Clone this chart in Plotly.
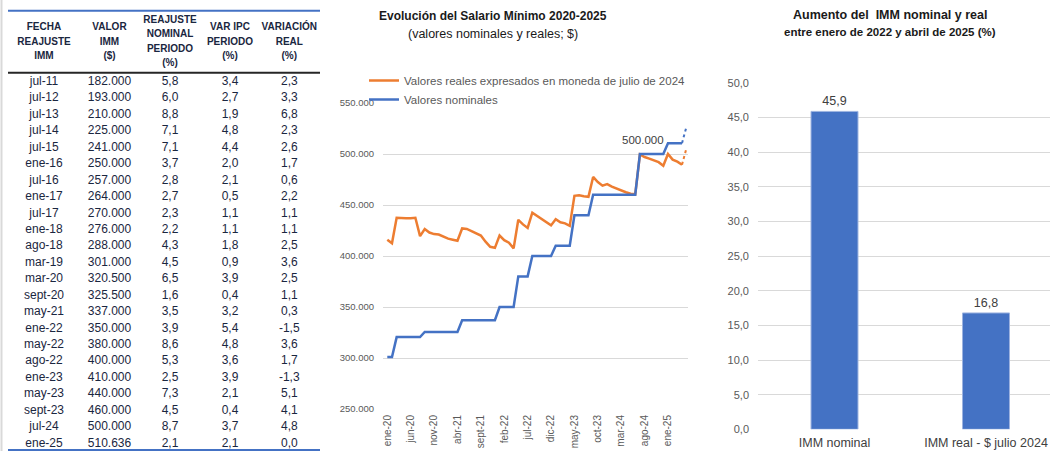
import plotly.graph_objects as go

# ---------------- Tabla de reajustes ----------------
fecha_reajuste = ["jul-11", "jul-12", "jul-13", "jul-14", "jul-15", "ene-16", "jul-16", "ene-17",
                  "jul-17", "ene-18", "ago-18", "mar-19", "mar-20", "sept-20", "may-21", "ene-22",
                  "may-22", "ago-22", "ene-23", "may-23", "sept-23", "jul-24", "ene-25"]
valor_imm = [182000, 193000, 210000, 225000, 241000, 250000, 257000, 264000,
             270000, 276000, 288000, 301000, 320500, 325500, 337000, 350000,
             380000, 400000, 410000, 440000, 460000, 500000, 510636]
reajuste_nominal = [5.8, 6.0, 8.8, 7.1, 7.1, 3.7, 2.8, 2.7, 2.3, 2.2, 4.3, 4.5,
                    6.5, 1.6, 3.5, 3.9, 8.6, 5.3, 2.5, 7.3, 4.5, 8.7, 2.1]
var_ipc = [3.4, 2.7, 1.9, 4.8, 4.4, 2.0, 2.1, 0.5, 1.1, 1.1, 1.8, 0.9,
           3.9, 0.4, 3.2, 5.4, 4.8, 3.6, 3.9, 2.1, 0.4, 3.7, 2.1]
variacion_real = [2.3, 3.3, 6.8, 2.3, 2.6, 1.7, 0.6, 2.2, 1.1, 1.1, 2.5, 3.6,
                  2.5, 1.1, 0.3, -1.5, 3.6, 1.7, -1.3, 5.1, 4.1, 4.8, 0.0]
encabezados = [["FECHA", "REAJUSTE", "IMM"],
               ["VALOR", "IMM", "($)"],
               ["REAJUSTE", "NOMINAL", "PERIODO", "(%)"],
               ["VAR IPC", "PERIODO", "(%)"],
               ["VARIACIÓN", "REAL", "(%)"]]

# ---------------- Serie mensual 2020-2025 ----------------
meses_es = ["ene", "feb", "mar", "abr", "may", "jun", "jul", "ago", "sept", "oct", "nov", "dic"]
meses = [f"{m}-{a}" for a in range(20, 26) for m in meses_es][:65]   # ene-20 ... may-25

valores_nominales = [
    301000, 301000,
    320500, 320500, 320500, 320500, 320500, 320500,
    325500, 325500, 325500, 325500, 325500, 325500, 325500, 325500,
    337000, 337000, 337000, 337000, 337000, 337000, 337000, 337000,
    350000, 350000, 350000, 350000,
    380000, 380000, 380000,
    400000, 400000, 400000, 400000, 400000,
    410000, 410000, 410000, 410000,
    440000, 440000, 440000, 440000,
    460000, 460000, 460000, 460000, 460000, 460000, 460000, 460000, 460000, 460000,
    500000, 500000, 500000, 500000, 500000, 500000,
    510636, 510636, 510636, 510636]
valores_reales = [
    416000, 412500, 437500, 437000, 437000, 437000, 437500, 419500, 426500, 423000,
    421500, 421000, 419000, 417000, 416000, 415000, 427000, 426500, 424500, 422500,
    420000, 414000, 409000, 408000, 420000, 415500, 413000, 407500, 435500, 431000,
    427500, 442500, 439500, 436500, 433000, 430000, 436000, 433000, 432000, 429500,
    459000, 459500, 458500, 458000, 477500, 472500, 469000, 470500, 468000, 466000,
    464500, 462500, 461000, 460500, 499500, 497000, 495500, 494000, 492000, 488500,
    500000, 494500, 492500, 489500]
proy_meses = ["abr-25", "may-25"]
proy_nominal = [510636, 527500]
proy_real = [489500, 506500]
etiqueta_mes, etiqueta_valor = "jul-24", 500000

# ---------------- Barras ----------------
barras_cat = ["IMM nominal", "IMM real - $ julio 2024"]
barras_val = [45.9, 16.8]


def miles(v):
    return f"{v:,}".replace(",", ".")


def dec(v):
    return f"{v:.1f}".replace(".", ",")


# ---------------- Layout constants ----------------
W, H = 1050, 451
NAVY = "#1a2640"
GRAY = "#595959"
DARK = "#404040"
ORANGE = "#ED7D31"
BLUE = "#4472C4"
FONT = "Liberation Sans, Arial, sans-serif"

COL_X = [44, 109.5, 170, 230, 289.3]
ROW0_Y, ROW_H = 82, 16.44
HDR_Y, HDR_LH = 42, 14.3

fig = go.Figure()

# ---- Table (text on a hidden pixel-unit axis) ----
cols = [fecha_reajuste,
        [miles(v) for v in valor_imm],
        [dec(v) for v in reajuste_nominal],
        [dec(v) for v in var_ipc],
        [dec(v) for v in variacion_real]]
tx, ty, tt = [], [], []
for c, col in enumerate(cols):
    for i, s in enumerate(col):
        tx.append(COL_X[c])
        ty.append(ROW0_Y + ROW_H * i)
        tt.append(s)
fig.add_trace(go.Scatter(x=tx, y=ty, text=tt, mode="text", xaxis="x3", yaxis="y3",
                         textfont=dict(size=12, color=NAVY, family=FONT),
                         textposition="middle center", showlegend=False, hoverinfo="skip"))
hx, hy, ht = [], [], []
for c, lines in enumerate(encabezados):
    n = len(lines)
    for k, s in enumerate(lines):
        hx.append(COL_X[c])
        hy.append(HDR_Y + (k - (n - 1) / 2) * HDR_LH)
        ht.append(s)
fig.add_trace(go.Scatter(x=hx, y=hy, text=ht, mode="text", xaxis="x3", yaxis="y3",
                         textfont=dict(size=10, color=NAVY, family=FONT, weight="bold"),
                         textposition="middle center", showlegend=False, hoverinfo="skip"))

# ---- Line chart ----
fig.add_trace(go.Scatter(x=meses[:len(valores_reales)], y=valores_reales, mode="lines",
                         name="Valores reales expresados en moneda de julio de 2024",
                         line=dict(color=ORANGE, width=2.5), xaxis="x", yaxis="y"))
fig.add_trace(go.Scatter(x=meses[:len(valores_nominales)], y=valores_nominales, mode="lines",
                         name="Valores nominales",
                         line=dict(color=BLUE, width=2.5), xaxis="x", yaxis="y"))
fig.add_trace(go.Scatter(x=proy_meses, y=proy_real, mode="lines", showlegend=False,
                         line=dict(color=ORANGE, width=2, dash="dot"), xaxis="x", yaxis="y"))
fig.add_trace(go.Scatter(x=proy_meses, y=proy_nominal, mode="lines", showlegend=False,
                         line=dict(color=BLUE, width=2, dash="dot"), xaxis="x", yaxis="y"))

# ---- Bar chart ----
fig.add_trace(go.Bar(x=barras_cat, y=barras_val, xaxis="x2", yaxis="y2", width=0.31,
                     marker=dict(color=BLUE, line=dict(color="#9db3e0", width=1)),
                     texttemplate="%{y:.1f}", textposition="outside", cliponaxis=False,
                     textfont=dict(size=12.5, color=DARK, family=FONT), showlegend=False))

shapes = [
    dict(type="line", xref="x3", yref="y3", x0=8, x1=320, y0=10.7, y1=10.7,
         line=dict(color=BLUE, width=2)),
    dict(type="line", xref="x3", yref="y3", x0=8, x1=320, y0=72.7, y1=72.7,
         line=dict(color="#262626", width=2)),
    dict(type="line", xref="x3", yref="y3", x0=8, x1=320, y0=450, y1=450,
         line=dict(color=BLUE, width=2)),
    dict(type="line", xref="x3", yref="y3", x0=1.5, x1=1.5, y0=0, y1=451,
         line=dict(color="#d9d9d9", width=2)),
]

ann_common = dict(xref="paper", yref="paper", showarrow=False,
                  xanchor="center", yanchor="middle")
annotations = [
    dict(text="<b>Evolución del Salario Mínimo 2020-2025</b>",
         x=493 / W, y=(H - 16) / H, font=dict(size=12, color="#1a1a1a"), **ann_common),
    dict(text="(valores nominales y reales; $)",
         x=493 / W, y=(H - 34) / H, font=dict(size=12.5, color="#1a1a1a"), **ann_common),
    dict(text="<b>Aumento del  IMM nominal y real</b>",
         x=890 / W, y=(H - 15) / H, font=dict(size=12.5, color="#1a1a1a"), **ann_common),
    dict(text="<b>entre enero de 2022 y abril de 2025 (%)</b>",
         x=890 / W, y=(H - 32) / H, font=dict(size=11.5, color="#1a1a1a"), **ann_common),
    dict(text=miles(etiqueta_valor), xref="x", yref="y", x=etiqueta_mes, y=etiqueta_valor,
         showarrow=False, xanchor="center", yanchor="middle", yshift=14, xshift=3,
         font=dict(size=11.5, color=DARK)),
]

fig.update_layout(
    width=W, height=H, margin=dict(l=0, r=0, t=0, b=0, autoexpand=False),
    paper_bgcolor="white", plot_bgcolor="rgba(0,0,0,0)",
    separators=",.",
    font=dict(family=FONT, color=GRAY),
    showlegend=True,
    legend=dict(x=364 / W, y=(H - 66) / H, xanchor="left", yanchor="top",
                font=dict(size=11.5, color=GRAY), bgcolor="rgba(0,0,0,0)",
                itemwidth=30, tracegroupgap=0),
    xaxis=dict(domain=[383 / W, 688 / W], type="category", categoryorder="array",
               categoryarray=meses, range=[-0.92, 64.28], tickmode="array",
               tickvals=meses[:61:5], ticktext=meses[:61:5], tickangle=-90,
               tickfont=dict(size=10, color=GRAY), showgrid=False, zeroline=False,
               showline=False, ticks="", ticklabelstandoff=3, anchor="y", automargin=False),
    yaxis=dict(domain=[(H - 409) / H, (H - 103) / H], range=[250000, 550000], dtick=50000,
               tickformat=",.0f", gridcolor="#d9d9d9", gridwidth=1, zeroline=False,
               showline=False, tickfont=dict(size=9.5, color=GRAY), ticklabelstandoff=8,
               anchor="x", automargin=False),
    xaxis2=dict(domain=[758 / W, 1.0], range=[-0.505, 1.4224], type="category",
                tickfont=dict(size=12.5, color=DARK), showgrid=False, zeroline=False,
                showline=False, ticks="", ticklabelstandoff=4, anchor="y2", automargin=False),
    yaxis2=dict(domain=[(H - 429.3) / H, (H - 83) / H], range=[0, 50], dtick=5,
                tickformat=".1f", gridcolor="#d9d9d9", gridwidth=1, zeroline=False,
                showline=False, tickfont=dict(size=11, color=GRAY), ticklabelstandoff=8,
                anchor="x2", automargin=False),
    xaxis3=dict(domain=[0, 340 / W], range=[0, 340], visible=False, anchor="y3",
                automargin=False),
    yaxis3=dict(domain=[0, 1], range=[H, 0], visible=False, anchor="x3", automargin=False),
    shapes=shapes,
    annotations=annotations,
)

fig.write_html("out.html", config={"displayModeBar": False},
               post_script="document.body.style.margin='0';document.body.style.overflow='hidden';")
